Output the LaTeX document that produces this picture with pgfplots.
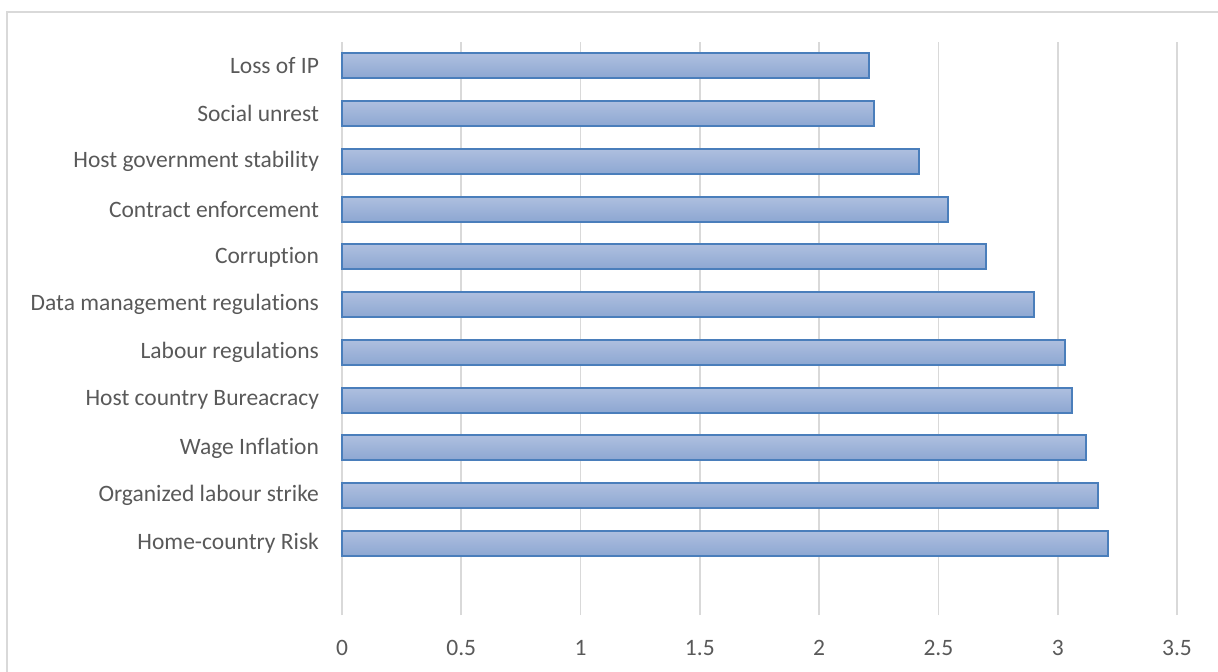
\documentclass[border=0pt]{standalone}
\usepackage{pgfplots}
\pgfplotsset{compat=1.18}
\usepackage{fontspec}
\setmainfont{Carlito}[RawFeature={-liga;-clig;-dlig;-calt}]

\definecolor{gridgray}{HTML}{D9D9D9}
\definecolor{labelgray}{HTML}{595959}
\definecolor{barline}{HTML}{4A7EBB}
\definecolor{bartop}{HTML}{AEBFDF}
\definecolor{barbottom}{HTML}{8DA7D2}
\definecolor{frame}{HTML}{D9D9D9}

\pgfplotsset{
  riskbar/.style={xbar, bar width=12.5pt, bar shift=0pt, draw=barline,
    line width=1pt, top color=bartop, bottom color=barbottom},
}

\begin{document}
\begin{tikzpicture}
\useasboundingbox (0,0) rectangle (609pt,335.5pt);
\clip (0,0) rectangle (609pt,335.5pt);
% chart area frame
\draw[frame, line width=1pt] (3.5pt,-10pt) -- (3.5pt,329.5pt) -- (620pt,329.5pt);
\begin{axis}[
  at={(171pt,28pt)}, anchor=south west,
  scale only axis,
  width=417.5pt, height=286.5pt,
  xmin=0, xmax=3.5,
  ymin=-1.5, ymax=10.5,
  xtick={0,0.5,1,1.5,2,2.5,3,3.5},
  ytick={0,...,10},
  yticklabels={Home-country Risk, Organized labour strike, Wage Inflation,
    Host country Bureacracy, Labour regulations, Data management regulations,
    Corruption, Contract enforcement, Host government stability,
    Social unrest, Loss of IP},
  axis line style={draw=none},
  xmajorgrids,
  major grid style={gridgray, line width=0.9pt},
  major tick length=0pt,
  tick style={draw=none},
  /pgf/number format/assume math mode=true,
  tick label style={font=\fontsize{11.75}{14}\selectfont, text=labelgray},
  xticklabel style={anchor=north, yshift=-9pt},
  yticklabel style={anchor=east, xshift=-8pt},
  clip=false,
]
% one plot per category so that each bar carries its own gradient
\addplot[riskbar] coordinates {(3.21,0)};  % Home-country Risk
\addplot[riskbar] coordinates {(3.17,1)};  % Organized labour strike
\addplot[riskbar] coordinates {(3.12,2)};  % Wage Inflation
\addplot[riskbar] coordinates {(3.06,3)};  % Host country Bureacracy
\addplot[riskbar] coordinates {(3.03,4)};  % Labour regulations
\addplot[riskbar] coordinates {(2.90,5)};  % Data management regulations
\addplot[riskbar] coordinates {(2.70,6)};  % Corruption
\addplot[riskbar] coordinates {(2.54,7)};  % Contract enforcement
\addplot[riskbar] coordinates {(2.42,8)};  % Host government stability
\addplot[riskbar] coordinates {(2.23,9)};  % Social unrest
\addplot[riskbar] coordinates {(2.21,10)}; % Loss of IP
\end{axis}
\end{tikzpicture}
\end{document}
